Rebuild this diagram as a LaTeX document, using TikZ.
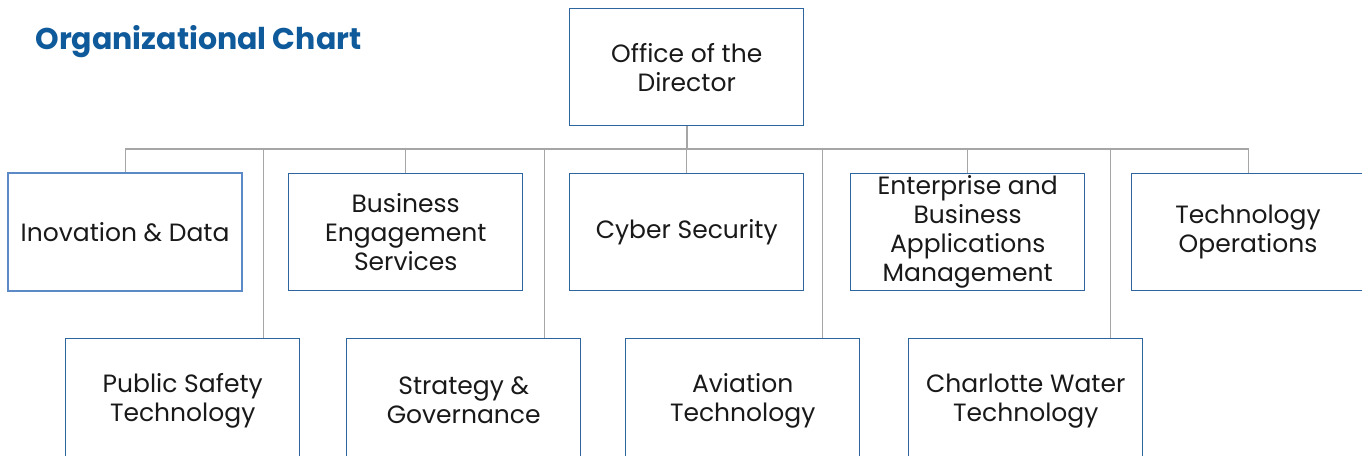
\documentclass[tikz,border=0pt]{standalone}
\usepackage{fontspec}
\setmainfont{Poppins}
\definecolor{boxblue}{HTML}{2E659E}
\definecolor{lightblue}{HTML}{5B8AC6}
\definecolor{conngray}{HTML}{A6A6A6}
\definecolor{titleblue}{HTML}{0F5A9A}
\begin{document}
\begin{tikzpicture}[x=1pt,y=-1pt,
  unit/.style={draw=boxblue,line width=1.4pt,minimum width=234pt,minimum height=117pt,
    inner sep=0pt,align=center,font=\fontsize{25}{29}\selectfont,text=black!90},
  conn/.style={draw=conngray,line width=1.8pt},
  drop/.style={draw=conngray,line width=1.2pt}]
\useasboundingbox (0,0) rectangle (1362,455);
\clip (0,0) rectangle (1362,455);
\node[anchor=west,text=titleblue,font=\fontsize{30}{34}\selectfont\bfseries] (title) at (32,42) {Organizational Chart};
\coordinate (bus) at (686,149);
\node[unit,anchor=north west] (dir) at (569,8) {Office of the\\Director};
\node[unit,anchor=north west,draw=lightblue,line width=2.2pt,minimum height=118pt] (inov) at (7,172) {Inovation \& Data};
\node[unit,anchor=north west] (bes) at (288,173) {Business\\Engagement\\Services};
\node[unit,anchor=north west] (cyb) at (569,173) {Cyber Security};
\node[unit,anchor=north west] (ent) at (850,173) {Enterprise and\\Business\\Applications\\Management};
\node[unit,anchor=north west,minimum width=240pt] (tops) at (1131,173) {};
\node[align=center,font=\fontsize{25}{29}\selectfont,text=black!90,inner sep=0pt] (topst) at (1248,231.5) {Technology\\Operations};
\node[unit,anchor=north west,minimum height=124pt] (pst) at (65,338) {Public Safety\\Technology};
\node[unit,anchor=north west,minimum height=124pt] (sg) at (346,338) {Strategy \&\\Governance};
\node[unit,anchor=north west,minimum height=124pt] (av) at (625,338) {Aviation\\Technology};
\node[unit,anchor=north west,minimum height=124pt] (cw) at (908,338) {Charlotte Water\\Technology};
\draw[conn] (dir.south) -- (dir.south |- bus);
\draw[conn] (inov.north |- bus) -- ([xshift=-3pt]tops.north |- bus);
\draw[drop] (inov.north |- bus) -- (inov.north);
\draw[drop] ([xshift=-3pt]tops.north |- bus) -- ([xshift=-3pt]tops.north);
\draw[drop] (bus -| bes.north) -- (bes.north);
\draw[drop] (bus -| cyb.north) -- (cyb.north);
\draw[drop] (bus -| ent.north) -- (ent.north);
\draw[conn] ([xshift=-37pt]pst.north east |- bus) -- ([xshift=-37pt]pst.north east);
\draw[conn] ([xshift=-37pt]sg.north east |- bus) -- ([xshift=-37pt]sg.north east);
\draw[conn] ([xshift=-38pt]av.north east |- bus) -- ([xshift=-38pt]av.north east);
\draw[conn] ([xshift=-33pt]cw.north east |- bus) -- ([xshift=-33pt]cw.north east);
\end{tikzpicture}
\end{document}
